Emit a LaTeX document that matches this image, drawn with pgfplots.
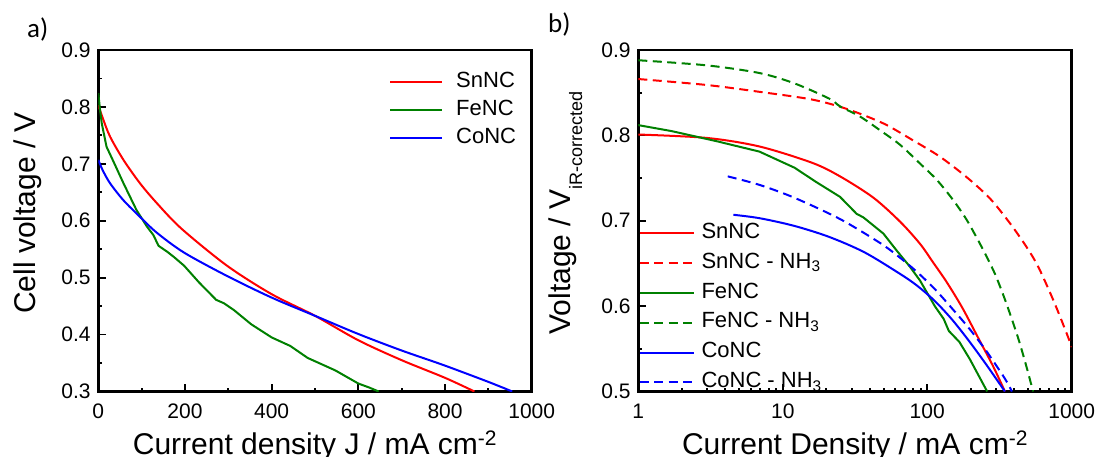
\documentclass[border=0pt]{standalone}
\usepackage{fontspec}
\setmainfont{Liberation Sans}
\newfontfamily\labelfont{Carlito}
\usepackage{pgfplots}
\pgfplotsset{compat=1.18}

\definecolor{snred}{RGB}{255,0,0}
\definecolor{fegreen}{RGB}{0,128,0}
\definecolor{coblue}{RGB}{0,0,255}

\pgfplotsset{
  panel/.style={
    scale only axis, width=433.4pt, height=341.5pt, anchor=south west,
    axis line style={line width=2.6pt},
    tick style={black, line width=1.8pt},
    major tick length=7.7pt, minor tick length=3.8pt,
    tick align=inside, xtick pos=bottom, ytick pos=left,
    /pgf/number format/assume math mode=true,
    tick label style={font=\fontsize{21}{21}\selectfont},
    xticklabel style={anchor=base, yshift=-27pt},
    yticklabel style={anchor=east, inner sep=0pt, xshift=-7.5pt},
    label style={font=\fontsize{30}{30}\selectfont},
    xlabel style={at={(axis description cs:0.5,-0.1853)}, anchor=base},
    ylabel style={anchor=base},
    legend cell align=left,
    every axis plot/.append style={line width=2pt},
  },
  nh3/.style={dash pattern=on 9pt off 5.5pt},
}

\begin{document}
\begin{tikzpicture}
\path[use as bounding box] (0pt,0pt) rectangle (1100pt,457pt);
\node[anchor=base west, inner sep=0pt, font=\labelfont\fontsize{27}{27}\selectfont] at (27pt,419pt) {a)};
\node[anchor=base west, inner sep=0pt, font=\labelfont\fontsize{27}{27}\selectfont] at (548pt,424pt) {b)};

% a) polarisation curves, linear
\begin{axis}[panel, at={(98.3pt,65.5pt)},
    xmin=0, xmax=1000, ymin=0.3, ymax=0.9,
    xtick={0,200,400,600,800,1000}, xticklabels={0,200,400,600,800,1000},
    minor xtick={100,300,500,700,900},
    ytick={0.3,0.4,0.5,0.6,0.7,0.8,0.9}, yticklabels={0.3,0.4,0.5,0.6,0.7,0.8,0.9},
    minor ytick={0.35,0.45,0.55,0.65,0.75,0.85},
    xlabel={Current density J / mA cm\textsuperscript{-2}},
    ylabel={Cell voltage / V},
    ylabel style={at={(axis description cs:-0.146,0.523)}},
    legend style={at={(axis description cs:0.6708,0.938)}, anchor=north west,
      draw=none, fill=none, inner sep=0pt, row sep=5.9pt, column sep=13pt,
      nodes={inner sep=0pt, text height=16pt, text depth=6pt, font=\fontsize{22}{22}\selectfont}},
    legend image code/.code={\draw[#1] (0pt,0pt) -- (52pt,0pt);},
  ]
  \addplot[snred, smooth] coordinates {
    (0,0.803) (10,0.781) (27,0.748) (58,0.707) (96,0.666) (135,0.631) (192,0.586)
    (297,0.521) (400,0.471) (500,0.433) (600,0.390) (700,0.355) (800,0.324) (868,0.300)};
  \addplot[fegreen] coordinates {
    (0,0.824) (4,0.795) (8,0.771) (19,0.730) (35,0.704) (58,0.666) (88,0.619)
    (112,0.590) (127,0.575) (139,0.556) (160,0.545) (175,0.536) (198,0.521)
    (232,0.492) (272,0.461) (290,0.455) (313,0.443) (353,0.418) (400,0.395)
    (443,0.380) (483,0.359) (547,0.337) (600,0.314) (625,0.307) (647,0.300)};
  \addplot[coblue, smooth] coordinates {
    (0,0.707) (10,0.689) (27,0.666) (58,0.636) (96,0.607) (135,0.579) (198,0.544)
    (297,0.503) (400,0.465) (500,0.433) (600,0.401) (700,0.372) (798,0.346)
    (903,0.316) (955,0.300)};
  \legend{SnNC, FeNC, CoNC}
\end{axis}

% b) iR-corrected, log current
\begin{axis}[panel, at={(638.3pt,65.5pt)}, xmode=log,
    xmin=1, xmax=1000, ymin=0.5, ymax=0.9,
    xtick={1,10,100,1000}, xticklabels={1,10,100,1000},
    minor xtick={2,3,4,5,6,7,8,9,20,30,40,50,60,70,80,90,200,300,400,500,600,700,800,900},
    ytick={0.5,0.6,0.7,0.8,0.9}, yticklabels={0.5,0.6,0.7,0.8,0.9},
    minor ytick={0.55,0.65,0.75,0.85},
    xlabel={Current Density / mA cm\textsuperscript{-2}},
    ylabel={Voltage / V\raisebox{-12pt}{\fontsize{18}{18}\selectfont iR-corrected}},
    ylabel style={at={(axis description cs:-0.1576,0.523)}},
    legend style={at={(axis description cs:0,0.4955)}, anchor=north west,
      draw=none, fill=none, inner sep=0pt, row sep=7.8pt, column sep=7pt,
      nodes={inner sep=0pt, text height=16pt, text depth=6pt, font=\fontsize{22}{22}\selectfont}},
    legend image code/.code={\draw[#1] (0pt,0pt) -- (54pt,0pt);},
  ]
  \addplot[snred, smooth] coordinates {
    (1,0.801) (2.98,0.797) (6.89,0.787) (15.9,0.768) (24.9,0.752) (42.4,0.727)
    (64.8,0.699) (89.1,0.673) (110,0.651) (136.5,0.628) (175,0.598) (225,0.563)
    (285,0.530) (345,0.500)};
  \addplot[snred, nh3, smooth] coordinates {
    (1,0.866) (2.98,0.859) (6.9,0.851) (15.9,0.842) (27.7,0.831) (49.7,0.814)
    (80,0.794) (122.5,0.775) (187.6,0.751) (272,0.726) (374,0.697) (488,0.669)
    (587,0.646) (746,0.607) (923,0.568) (1000,0.552)};
  \addplot[fegreen] coordinates {
    (1,0.812) (1.7,0.805) (3.52,0.793) (6.89,0.781) (12.1,0.762) (16.8,0.746)
    (24.9,0.728) (32.5,0.708) (36.1,0.704) (49.7,0.685) (61.5,0.665) (76,0.646)
    (89.1,0.630) (112.8,0.600) (130,0.585) (141,0.571) (167,0.558) (197,0.538) (260,0.500)};
  \addplot[fegreen, nh3, smooth] coordinates {
    (1,0.888) (2.98,0.882) (6.9,0.873) (12,0.861) (21,0.843) (24.9,0.834)
    (34.3,0.822) (47.1,0.806) (64.8,0.789) (89.1,0.767) (116.3,0.748) (151.5,0.724)
    (187.6,0.701) (231.8,0.673) (272,0.650) (302.5,0.633) (355,0.602) (427,0.562)
    (490,0.527) (540,0.500)};
  \addplot[coblue, smooth] coordinates {
    (4.55,0.707) (6.9,0.703) (12,0.694) (21,0.681) (36.8,0.663) (64.5,0.638)
    (85,0.624) (112.8,0.606) (149,0.584) (197,0.558) (260,0.530) (345,0.500)};
  \addplot[coblue, nh3, smooth] coordinates {
    (4.16,0.752) (6.9,0.742) (12,0.727) (24.9,0.702) (47.1,0.674) (64.5,0.657)
    (85,0.640) (112.8,0.620) (149,0.597) (197,0.573) (260,0.546) (345,0.515)
    (386,0.500)};
  \legend{SnNC, SnNC - NH\textsubscript{3}, FeNC, FeNC - NH\textsubscript{3}, CoNC, CoNC - NH\textsubscript{3}}
\end{axis}
\end{tikzpicture}
\end{document}
